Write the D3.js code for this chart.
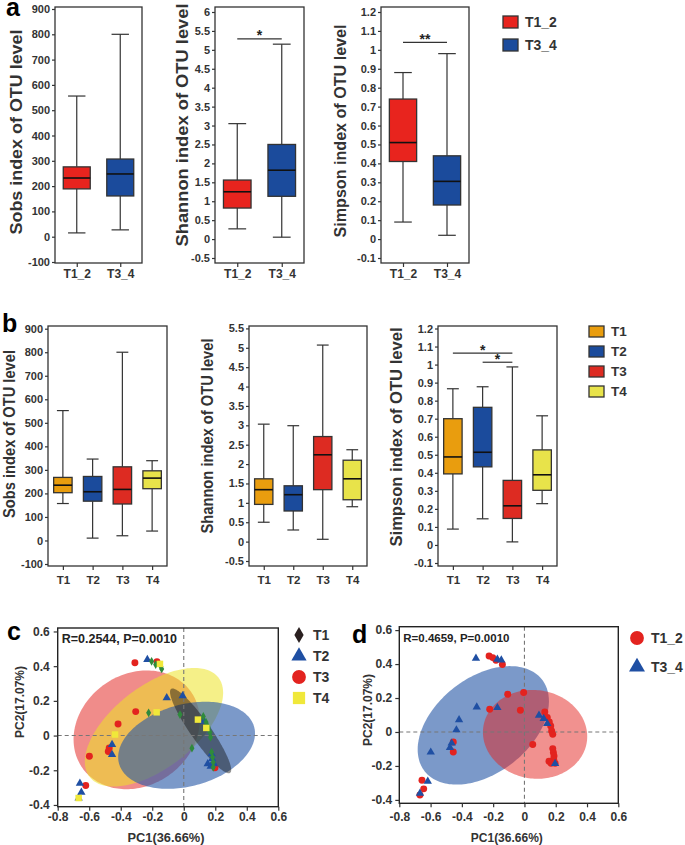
<!DOCTYPE html>
<html>
<head>
<meta charset="utf-8">
<script src="https://cdn.jsdelivr.net/npm/d3@7"></script>
<style>
  body { margin: 0; background: #fff; }
  text { font-family: Arial, "Liberation Sans", sans-serif; font-weight: bold; fill: #333; }
</style>
</head>
<body>
<svg id="fig" width="685" height="845"></svg>
<script>
// ---- data ----
const pairGroups = ["T1_2", "T3_4"];
const treatGroups = ["T1", "T2", "T3", "T4"];

// box stats: [min, q1, median, q3, max]
const sobsPair = [[15, 189, 232, 276, 556], [27, 161, 248, 307, 800]];
const shannonPair = [[0.27, 0.82, 1.25, 1.56, 3.05], [0.05, 1.13, 1.82, 2.5, 5.15]];
const simpsonPair = [[0.09, 0.41, 0.51, 0.74, 0.88], [0.02, 0.18, 0.305, 0.44, 0.98]];

const sobsTreat = [[157, 203, 235, 268, 552], [10, 167, 207, 272, 346], [20, 155, 217, 313, 800], [40, 220, 265, 296, 339]];
const shannonTreat = [[0.5, 0.96, 1.34, 1.62, 3.03], [0.3, 0.79, 1.21, 1.44, 2.99], [0.06, 1.34, 2.24, 2.71, 5.07], [0.9, 1.08, 1.62, 2.1, 2.37]];
const simpsonTreat = [[0.088, 0.394, 0.488, 0.70, 0.866], [0.145, 0.433, 0.514, 0.763, 0.877], [0.017, 0.147, 0.217, 0.358, 0.987], [0.229, 0.303, 0.389, 0.527, 0.716]];

const sobsTicks = [-100, 0, 100, 200, 300, 400, 500, 600, 700, 800, 900];
const shannonTicksA = [-0.5, 0, 0.5, 1, 1.5, 2, 2.5, 3, 3.5, 4, 4.5, 5, 5.5, 6];
const shannonTicksB = [-0.5, 0, 0.5, 1, 1.5, 2, 2.5, 3, 3.5, 4, 4.5, 5, 5.5];
const simpsonTicks = [-0.1, 0, 0.1, 0.2, 0.3, 0.4, 0.5, 0.6, 0.7, 0.8, 0.9, 1, 1.1, 1.2];

// significance: [groupA, groupB, y value, label]
const sigShannonPair = [["T1_2", "T3_4", 5.29, "*"]];
const sigSimpsonPair = [["T1_2", "T3_4", 1.04, "**"]];
const sigSimpsonTreat = [["T1", "T3", 1.064, "*"], ["T2", "T3", 1.013, "*"]];

// PCoA
const pcXTicks = [-0.8, -0.6, -0.4, -0.2, 0, 0.2, 0.4, 0.6];
const pcYTicks = [-0.4, -0.2, 0, 0.2, 0.4, 0.6];

const pcT1 = [[-0.204, 0.428], [-0.178, 0.409], [-0.145, 0.398], [-0.14, 0.384], [-0.223, 0.131], [-0.024, 0.121], [0.052, -0.073], [0.124, 0.11], [0.141, 0.077], [0.155, 0.048], [0.166, 0.019], [0.17, -0.01], [0.177, -0.096], [0.183, -0.125], [0.187, -0.154], [0.187, -0.183]];
const pcT2 = [[-0.231, 0.438], [-0.108, 0.217], [-0.007, 0.229], [-0.455, -0.052], [-0.455, -0.109], [-0.659, -0.275], [-0.65, -0.327], [-0.667, -0.36], [0.128, 0.082], [0.177, -0.106], [0.18, -0.134], [0.152, -0.163], [0.171, -0.177], [0.192, -0.163]];
const pcT3 = [[-0.31, 0.42], [-0.17, 0.426], [-0.305, 0.138], [-0.417, 0.067], [-0.473, -0.071], [-0.479, -0.092], [-0.599, -0.119], [-0.622, -0.288], [0.198, -0.186]];
const pcT4 = [[-0.151, 0.413], [-0.172, 0.134], [-0.436, 0.006], [0.09, 0.092], [0.143, 0.044], [-0.667, -0.36]];

const pcT12 = [[-0.226, 0.447], [-0.203, 0.438], [-0.182, 0.422], [-0.141, 0.398], [-0.107, 0.222], [-0.005, 0.232], [-0.222, 0.134], [-0.026, 0.128], [0.13, 0.118], [0.146, 0.085], [0.159, 0.059], [0.168, 0.035], [0.174, 0.006], [0.181, -0.014], [0.053, -0.074], [-0.455, -0.059], [-0.455, -0.118], [-0.655, -0.284], [-0.644, -0.335], [-0.668, -0.371], [0.181, -0.098], [0.185, -0.121], [0.189, -0.141], [0.187, -0.161], [0.157, -0.172], [0.17, -0.184], [0.196, -0.184]];
const pcT34 = [[-0.31, 0.434], [-0.173, 0.428], [-0.148, 0.424], [-0.305, 0.147], [-0.173, 0.143], [-0.418, 0.071], [-0.435, 0.012], [-0.465, -0.066], [-0.476, -0.092], [-0.599, -0.119], [-0.618, -0.29], [-0.668, -0.361], [0.093, 0.098], [0.123, 0.079], [0.146, 0.049], [0.196, -0.186]];

// confidence ellipses: centre + major / minor semi-axis vectors (data units)
const ellipsesC = [
  { g: "T3", cx: -0.299, cy: 0.033, ax: 0.345, ay: 0.219, bx: -0.203, by: 0.263 },
  { g: "T4", cx: -0.189, cy: 0.048, ax: 0.409, ay: 0.286, bx: -0.159, by: 0.187 },
  { g: "T2", cx: 0.018, cy: -0.056, ax: 0.429, ay: 0.105, bx: -0.067, by: 0.228 },
  { g: "T1", cx: 0.107, cy: 0.027, ax: 0.187, ay: -0.242, bx: 0.052, by: 0.033 }
];
const ellipsesD = [
  { g: "T3_4", cx: -0.263, cy: 0.039, ax: 0.375, ay: 0.27, bx: -0.188, by: 0.221 },
  { g: "T1_2", cx: 0.068, cy: -0.014, ax: 0.331, ay: -0.043, bx: -0.039, by: -0.258 }
];

// ---- drawing ----
const svg = d3.select("#fig");
const fmt = v => String(+v.toFixed(2));

const pairColors = ["#e8241e", "#1b4b9c"];
const treatColors = ["#e99d0e", "#1b4b9c", "#dd2b22", "#e8e34a"];

function styleAxis(g, size) {
  g.select("path.domain").remove();
  g.selectAll("line").attr("stroke", "#333").attr("stroke-width", 1.2);
  g.selectAll("text").attr("font-size", size).attr("font-family", null).style("fill", "#333").style("font-weight", "bold");
}

function yTitle(label, x, cy, len, size) {
  svg.append("text")
    .attr("transform", `translate(${x},${cy}) rotate(-90)`)
    .attr("text-anchor", "middle")
    .attr("font-size", size)
    .attr("textLength", len)
    .attr("lengthAdjust", "spacingAndGlyphs")
    .text(label);
}

function boxPanel(c) {
  const x = d3.scalePoint().domain(c.groups).range([c.left, c.right]).padding(0.5);
  const y = d3.scaleLinear().domain(c.domain).range(c.yRange);
  const step = x.step();
  const bw = step * 0.62, cw = step * 0.4;
  const g = svg.append("g");

  g.append("rect")
    .attr("x", c.left).attr("y", c.frame[0])
    .attr("width", c.right - c.left).attr("height", c.frame[1] - c.frame[0])
    .attr("fill", "none").attr("stroke", "#333").attr("stroke-width", 1.3);

  const ya = g.append("g").attr("transform", `translate(${c.left},0)`)
    .call(d3.axisLeft(y).tickValues(c.ticks).tickFormat(fmt).tickSize(3).tickPadding(2));
  styleAxis(ya, 11);

  const xa = g.append("g").attr("transform", `translate(0,${c.frame[1]})`)
    .call(d3.axisBottom(x).tickSize(4).tickPadding(c.xPad));
  styleAxis(xa, c.xFont);

  const boxes = g.selectAll("g.box").data(c.stats).join("g").attr("class", "box")
    .attr("transform", (d, i) => `translate(${x(c.groups[i])},0)`);

  boxes.append("line").attr("y1", d => y(d[0])).attr("y2", d => y(d[1]))
    .attr("stroke", "#333").attr("stroke-width", 1.2);
  boxes.append("line").attr("y1", d => y(d[3])).attr("y2", d => y(d[4]))
    .attr("stroke", "#333").attr("stroke-width", 1.2);
  boxes.append("line").attr("x1", -cw / 2).attr("x2", cw / 2).attr("y1", d => y(d[0])).attr("y2", d => y(d[0]))
    .attr("stroke", "#333").attr("stroke-width", 1.2);
  boxes.append("line").attr("x1", -cw / 2).attr("x2", cw / 2).attr("y1", d => y(d[4])).attr("y2", d => y(d[4]))
    .attr("stroke", "#333").attr("stroke-width", 1.2);
  boxes.append("rect").attr("x", -bw / 2).attr("width", bw)
    .attr("y", d => y(d[3])).attr("height", d => y(d[1]) - y(d[3]))
    .attr("fill", (d, i) => c.colors[i]).attr("stroke", "#333").attr("stroke-width", 1.3);
  boxes.append("line").attr("x1", -bw / 2).attr("x2", bw / 2).attr("y1", d => y(d[2])).attr("y2", d => y(d[2]))
    .attr("stroke", "#111").attr("stroke-width", 1.6);

  (c.sig || []).forEach(s => {
    g.append("line").attr("x1", x(s[0])).attr("x2", x(s[1])).attr("y1", y(s[2])).attr("y2", y(s[2]))
      .attr("stroke", "#333").attr("stroke-width", 1.2);
    g.append("text").attr("x", (x(s[0]) + x(s[1])) / 2).attr("y", y(s[2]) + 1.5)
      .attr("text-anchor", "middle").attr("font-size", 14).style("fill", "#222").text(s[3]);
  });

  yTitle(c.title, c.titleX, c.titleY, c.titleLen, 16);
}

const titleSobs = "Sobs index of OTU level";
const titleShannon = "Shannon index of OTU level";
const titleSimpson = "Simpson index of OTU level";

// row a
boxPanel({ groups: pairGroups, stats: sobsPair, colors: pairColors, left: 55, right: 142, domain: [-100, 900], yRange: [262, 9], frame: [7, 263], ticks: sobsTicks, xPad: 2, xFont: 12, title: titleSobs, titleX: 22, titleY: 132, titleLen: 205 });
boxPanel({ groups: pairGroups, stats: shannonPair, colors: pairColors, left: 215, right: 304, domain: [-0.5, 6], yRange: [258, 12], frame: [7, 263], ticks: shannonTicksA, xPad: 2, xFont: 12, sig: sigShannonPair, title: titleShannon, titleX: 188, titleY: 125, titleLen: 243 });
boxPanel({ groups: pairGroups, stats: simpsonPair, colors: pairColors, left: 381, right: 469, domain: [-0.1, 1.2], yRange: [258, 12], frame: [7, 263], ticks: simpsonTicks, xPad: 2, xFont: 12, sig: sigSimpsonPair, title: titleSimpson, titleX: 346, titleY: 131, titleLen: 213 });

// row b
boxPanel({ groups: treatGroups, stats: sobsTreat, colors: treatColors, left: 48, right: 167, domain: [-100, 900], yRange: [564, 328.7], frame: [326, 566], ticks: sobsTicks, xPad: 6, xFont: 11.5, title: titleSobs, titleX: 15, titleY: 434, titleLen: 168 });
boxPanel({ groups: treatGroups, stats: shannonTreat, colors: treatColors, left: 249, right: 367, domain: [-0.5, 5.5], yRange: [561, 328.4], frame: [326, 566], ticks: shannonTicksB, xPad: 6, xFont: 11.5, title: titleShannon, titleX: 213, titleY: 436, titleLen: 195 });
boxPanel({ groups: treatGroups, stats: simpsonTreat, colors: treatColors, left: 438, right: 557, domain: [-0.1, 1.2], yRange: [563, 328.5], frame: [326, 566], ticks: simpsonTicks, xPad: 6, xFont: 11.5, sig: sigSimpsonTreat, title: titleSimpson, titleX: 402, titleY: 437, titleLen: 219 });

// legends a / b
function boxLegend(groups, colors, x0, y0, gap, h, size) {
  groups.forEach((k, i) => {
    svg.append("rect").attr("x", x0).attr("y", y0 + i * gap).attr("width", 15).attr("height", h)
      .attr("fill", colors[i]).attr("stroke", "#333").attr("stroke-width", 1.3);
    svg.append("text").attr("x", x0 + 22).attr("y", y0 + i * gap + h / 2 + size * 0.36)
      .attr("font-size", size).text(k);
  });
}
boxLegend(pairGroups, pairColors, 503, 16, 23, 12, 14);
boxLegend(treatGroups, treatColors, 589, 326, 20, 11, 13.5);

// panel letters
[["a", 6, 16], ["b", 2, 332], ["c", 7, 640], ["d", 352, 643]].forEach(p => {
  svg.append("text").attr("x", p[1]).attr("y", p[2]).attr("font-size", 25).style("fill", "#000").text(p[0]);
});

// ---- PCoA panels ----
const pcStyle = {
  T1: { sym: d3.symbolDiamond, size: 22, fill: "#2f8a3c" },
  T2: { sym: d3.symbolTriangle, size: 30, fill: "#1f4fa3" },
  T3: { sym: d3.symbolCircle, size: 38, fill: "#e3231f" },
  T4: { sym: d3.symbolSquare, size: 42, fill: "#f0e83a" },
  T1_2: { sym: d3.symbolCircle, size: 38, fill: "#e3231f" },
  T3_4: { sym: d3.symbolTriangle, size: 30, fill: "#1f4fa3" }
};
const ellipseFill = {
  T3: ["#e3231f", 0.52], T4: ["#ece426", 0.55], T2: ["#2a5aa8", 0.62], T1: ["#111", 0.45],
  T3_4: ["#2a5aa8", 0.62], T1_2: ["#e3231f", 0.5]
};

function pcPanel(c) {
  const x = d3.scaleLinear().domain([-0.8, 0.6]).range([c.left, c.right]);
  const y = d3.scaleLinear().domain(c.yDomain).range([c.bottom, c.top]);
  const g = svg.append("g");

  const line = d3.line().x(d => x(d[0])).y(d => y(d[1])).curve(d3.curveLinearClosed);
  c.ellipses.forEach(e => {
    const pts = d3.range(0, 2 * Math.PI, Math.PI / 90).map(t =>
      [e.cx + e.ax * Math.cos(t) + e.bx * Math.sin(t), e.cy + e.ay * Math.cos(t) + e.by * Math.sin(t)]);
    g.append("path").attr("d", line(pts))
      .attr("fill", ellipseFill[e.g][0]).attr("fill-opacity", ellipseFill[e.g][1]);
  });

  g.append("line").attr("x1", x(0)).attr("x2", x(0)).attr("y1", c.top).attr("y2", c.bottom)
    .attr("stroke", "#777").attr("stroke-dasharray", "4,3").attr("stroke-width", 1.1);
  g.append("line").attr("x1", c.left).attr("x2", c.right).attr("y1", y(0)).attr("y2", y(0))
    .attr("stroke", "#777").attr("stroke-dasharray", "4,3").attr("stroke-width", 1.1);

  c.series.forEach(s => {
    const st = pcStyle[s.g];
    g.selectAll(null).data(s.pts).join("path")
      .attr("transform", d => `translate(${x(d[0])},${y(d[1])})`)
      .attr("d", d3.symbol(st.sym, st.size))
      .attr("fill", st.fill);
  });

  g.append("rect").attr("x", c.left).attr("y", c.top).attr("width", c.right - c.left).attr("height", c.bottom - c.top)
    .attr("fill", "none").attr("stroke", "#222").attr("stroke-width", 1.4);

  const xa = g.append("g").attr("transform", `translate(0,${c.bottom})`)
    .call(d3.axisBottom(x).tickValues(pcXTicks).tickFormat(fmt).tickSize(4).tickPadding(c.xPad));
  styleAxis(xa, 12);
  const ya = g.append("g").attr("transform", `translate(${c.left},0)`)
    .call(d3.axisLeft(y).tickValues(pcYTicks).tickFormat(fmt).tickSize(4).tickPadding(c.yPad));
  styleAxis(ya, 12);

  g.append("text").attr("x", c.left + 4).attr("y", c.top + 15).attr("font-size", c.statSize).style("fill", "#222").text(c.stat);
  svg.append("text").attr("x", (c.left + c.right) / 2 - 2).attr("y", 842).attr("text-anchor", "middle")
    .attr("font-size", 12.5).attr("textLength", c.xTitleLen).attr("lengthAdjust", "spacingAndGlyphs").text("PC1(36.66%)");
  yTitle("PC2(17.07%)", c.yTitleX, c.yTitleY, 72, 12.5);

  c.legend.forEach((k, i) => {
    const st = pcStyle[k.g];
    svg.append("path").attr("transform", `translate(${c.legX},${c.legY + i * c.legGap})`)
      .attr("d", d3.symbol(st.sym, k.size)).attr("fill", k.fill || st.fill);
    svg.append("text").attr("x", c.legX + 14).attr("y", c.legY + i * c.legGap + 5)
      .attr("font-size", c.legFont).text(k.g);
  });
}

pcPanel({
  left: 57.7, right: 278.3, top: 628, bottom: 806.7, yDomain: [-0.41, 0.62], xPad: 2, yPad: 4,
  ellipses: ellipsesC,
  series: [{ g: "T3", pts: pcT3 }, { g: "T2", pts: pcT2 }, { g: "T1", pts: pcT1 }, { g: "T4", pts: pcT4 }],
  stat: "R=0.2544, P=0.0010", statSize: 12.5, xTitleLen: 77, yTitleX: 24, yTitleY: 702,
  legX: 299, legY: 635, legGap: 21, legFont: 14,
  legend: [{ g: "T1", size: 75, fill: "#2a2020" }, { g: "T2", size: 100 }, { g: "T3", size: 150 }, { g: "T4", size: 150 }]
});

pcPanel({
  left: 399.3, right: 618.3, top: 626.7, bottom: 803.3, yDomain: [-0.42, 0.62], xPad: 5, yPad: 3,
  ellipses: ellipsesD,
  series: [{ g: "T1_2", pts: pcT12 }, { g: "T3_4", pts: pcT34 }],
  stat: "R=0.4659, P=0.0010", statSize: 11.5, xTitleLen: 72, yTitleX: 372, yTitleY: 710,
  legX: 637, legY: 638, legGap: 29, legFont: 14,
  legend: [{ g: "T1_2", size: 150 }, { g: "T3_4", size: 110 }]
});
</script>
</body>
</html>
